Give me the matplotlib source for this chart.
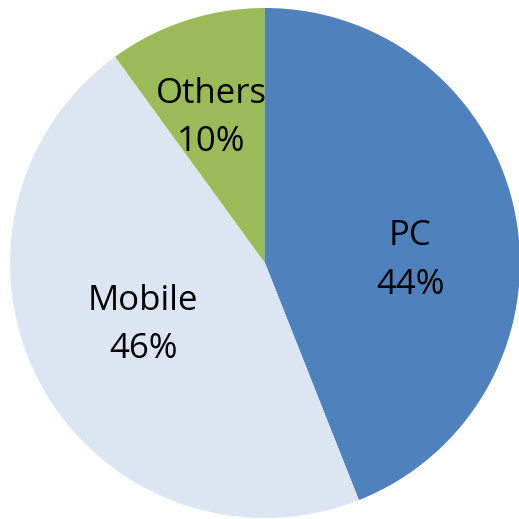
import matplotlib
matplotlib.use('Agg')
import matplotlib.pyplot as plt

labels = ["PC", "Mobile", "Others"]
shares = [44, 46, 10]
colors = ["#4F81BD", "#DCE6F2", "#9BBB59"]
# label block centres, in pie radius units
label_pos = [(0.57, 0.01), (-0.478, -0.243), (-0.212, 0.569)]

fig = plt.figure(figsize=(5.19, 5.19), dpi=100)
ax = fig.add_axes([0, 0, 1, 1])
wedges, _ = ax.pie(shares, colors=colors, startangle=90, counterclock=False,
                   radius=1.0, wedgeprops={"linewidth": 0})
for name, val, (x, y) in zip(labels, shares, label_pos):
    ax.text(x, y, f"{name}\n{val}%", ha="center", va="center", fontsize=25,
            family=["Open Sans", "DejaVu Sans"], linespacing=1.55)

ax.set_xlim(-265 / 255, 254 / 255)
ax.set_ylim(-256 / 255, 263 / 255)
ax.set_aspect("auto")
ax.axis("off")
fig.savefig("out.png", dpi=100)
